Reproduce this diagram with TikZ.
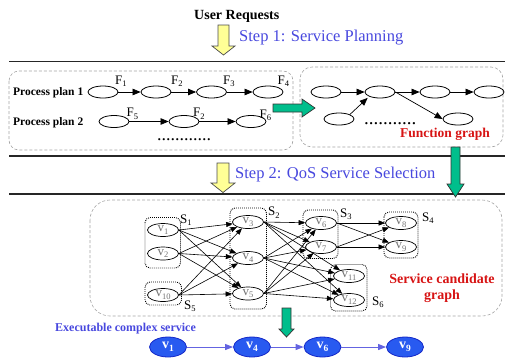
\documentclass[tikz,border=0pt]{standalone}
\usepackage{fontspec}
\setmainfont{Liberation Serif}
\usetikzlibrary{arrows.meta,calc,shapes.geometric}

\definecolor{stepblue}{RGB}{72,72,222}
\definecolor{redtxt}{RGB}{215,20,20}
\definecolor{tealarrow}{RGB}{0,190,140}
\definecolor{yel}{RGB}{255,255,150}
\definecolor{nodeblue}{RGB}{40,90,240}
\definecolor{nodeborder}{RGB}{20,40,200}
\definecolor{edgeblue}{RGB}{100,100,225}
\definecolor{boxgray}{RGB}{165,165,165}

\newcommand\lowsub[1]{\raisebox{-0.45ex}{\fontsize{8.5}{8.5}\selectfont #1}}
\newcommand\bluesub[1]{\raisebox{-0.45ex}{\fontsize{9.5}{9.5}\selectfont #1}}

\begin{document}
\begin{tikzpicture}[x=1pt,y=-1pt,
  pe/.style={ellipse, draw, line width=0.8pt, minimum width=30pt, minimum height=12pt, inner sep=0pt},
  sv/.style={ellipse, draw, line width=0.7pt, minimum width=31pt, minimum height=13pt, inner sep=0pt, text=black!55, font=\fontsize{13}{13}\selectfont},
  bv/.style={ellipse, draw=nodeborder, fill=nodeblue, line width=0.8pt, minimum width=37pt, minimum height=20pt, inner sep=0pt, text=white, font=\bfseries\fontsize{14}{14}\selectfont},
  arr/.style={-{Triangle[length=8pt,width=6.5pt]}, line width=0.7pt},
  sarr/.style={-{Triangle[length=6.5pt,width=5pt]}, line width=0.6pt},
  barr/.style={draw=edgeblue, -{Triangle[length=8pt,width=6pt]}, line width=1pt},
  dashbox/.style={draw=boxgray, line width=0.6pt, dash pattern=on 3pt off 2pt},
  dotbox/.style={draw=black, line width=0.9pt, dash pattern=on 0.9pt off 1.1pt, rounded corners=5pt},
  yarrow/.style={fill=yel, draw=black!70, line width=0.7pt},
  tarrow/.style={fill=tealarrow, draw=black!80, line width=0.7pt},
  lbl/.style={anchor=base west, inner sep=0pt, font=\fontsize{13}{13}\selectfont},
  sepline/.style={line width=1.2pt, draw=black!85}
]
\useasboundingbox (0,0) rectangle (505,360);

% ---------- titles and separators ----------
\node[anchor=base west, inner sep=0pt, font=\bfseries\fontsize{14}{14}\selectfont] (user) at (194,19.5) {User Requests};
\node[anchor=base west, inner sep=0pt, text=stepblue, font=\fontsize{16.5}{16.5}\selectfont] (step1) at (239,41.5) {Step 1: Service Planning};
\node[anchor=base west, inner sep=0pt, text=stepblue, font=\fontsize{16.5}{16.5}\selectfont] (step2) at (235,178.3) {Step 2: QoS Service Selection};

\draw[sepline] (9,61.5) -- (505,61.5);
\draw[sepline] (9,156) -- (505,156);
\draw[sepline] (9,194) -- (505,194);

% yellow arrows
\draw[yarrow] (218,25) -- (229,25) -- (229,46) -- (235,46) -- (223.5,55) -- (212,46) -- (218,46) -- cycle;
\draw[yarrow] (217,163) -- (229,163) -- (229,183) -- (235,183) -- (223,192.5) -- (211,183) -- (217,183) -- cycle;

% ---------- process plans box ----------
\draw[dashbox, rounded corners=10pt] (9,71) rectangle (293,150);
\node[anchor=base west, inner sep=0pt, font=\bfseries\fontsize{11.5}{11.5}\selectfont] (pp1) at (13,95) {Process plan 1};
\node[anchor=base west, inner sep=0pt, font=\bfseries\fontsize{11.5}{11.5}\selectfont] (pp2) at (13,125) {Process plan 2};

\node[pe] (p1) at (103,92) {};
\node[pe] (p2) at (156,92) {};
\node[pe] (p3) at (211.5,92) {};
\node[pe] (p4) at (268,92) {};
\draw[arr] (p1.east) -- (p2.west);
\draw[arr] (p2.east) -- (p3.west);
\draw[arr] (p3.east) -- (p4.west);
\node[lbl] (F1) at (115,84) {F\lowsub{1}};
\node[lbl] (F2) at (171,84) {F\lowsub{2}};
\node[lbl] (F3) at (223,84) {F\lowsub{3}};
\node[lbl] (F4) at (277.5,84) {F\lowsub{4}};

\node[pe] (q1) at (114,121.5) {};
\node[pe] (q2) at (184,121.5) {};
\node[pe] (q3) at (251,121.5) {};
\draw[arr] (q1.east) -- (q2.west);
\draw[arr] (q2.east) -- (q3.west);
\node[lbl] (F5) at (126.5,116.5) {F\lowsub{5}};
\node[lbl] (F2b) at (193,116.5) {F\lowsub{2}};
\node[lbl] (F6) at (259.5,118) {F\lowsub{6}};
\node[anchor=base west, inner sep=0pt, font=\fontsize{18}{18}\selectfont] (dots1) at (157,140) {............};

% ---------- function graph box ----------
\draw[dashbox, rounded corners=12pt] (300,67) rectangle (503,147);
\node[pe] (f1) at (326,92) {};
\node[pe] (f2) at (380,92) {};
\node[pe] (f3) at (435,92) {};
\node[pe] (f4) at (489,92) {};
\node[pe] (f5) at (339,119) {};
\node[pe] (f6) at (458,119) {};
\draw[arr] (f1.east) -- (f2.west);
\draw[arr] (f2.east) -- (f3.west);
\draw[arr] (f3.east) -- (f4.west);
\draw[arr, shorten >=2pt] (f5.north east) -- (f2.south west);
\draw[arr] (f2.east) -- (f6.west);
\node[anchor=base west, inner sep=0pt, font=\fontsize{19}{19}\selectfont] (dots2) at (364,124.5) {...........};
\node[anchor=base west, inner sep=0pt, text=redtxt, font=\bfseries\fontsize{13.5}{13.5}\selectfont] (fg) at (400,137) {Function graph};

% teal arrows
\draw[tarrow] (273,104) -- (302,104) -- (302,99) -- (315,108) -- (302,117) -- (302,112) -- (273,112) -- cycle;
\draw[tarrow] (451,147) -- (460,147) -- (460,184) -- (464,184) -- (455.5,197) -- (447,184) -- (451,184) -- cycle;

% ---------- service candidate graph ----------
\draw[dashbox, rounded corners=20pt] (90,200) rectangle (502,316);

\draw[dotbox] (145,217.5) rectangle (180.5,268);
\draw[dotbox] (145,282) rectangle (181.5,305);
\draw[dotbox] (230,208) rectangle (266.5,309);
\draw[dotbox] (303,210) rectangle (338,258.5);
\draw[dotbox] (384,212) rectangle (418,258);
\draw[dotbox] (330.5,264.5) rectangle (367,311);

\node[lbl] (S1) at (180,223) {S\lowsub{1}};
\node[lbl] (S5) at (184,309) {S\lowsub{5}};
\node[lbl] (S2) at (268,215.5) {S\lowsub{2}};
\node[lbl] (S3) at (340,217) {S\lowsub{3}};
\node[lbl] (S4) at (422,221) {S\lowsub{4}};
\node[lbl] (S6) at (372,305) {S\lowsub{6}};

\node[sv] (v1) at (163,230) {v\lowsub{1}};
\node[sv] (v2) at (163,253.5) {v\lowsub{2}};
\node[sv] (v10) at (163,295) {v\lowsub{10}};
\node[sv] (v3) at (248,222) {v\lowsub{3}};
\node[sv] (v4) at (248,258) {v\lowsub{4}};
\node[sv] (v5) at (248,293.5) {v\lowsub{5}};
\node[sv] (v6) at (321,223) {v\lowsub{6}};
\node[sv] (v7) at (321,247) {v\lowsub{7}};
\node[sv] (v8) at (401,223) {v\lowsub{8}};
\node[sv] (v9) at (401,247) {v\lowsub{9}};
\node[sv] (v11) at (349,276) {v\lowsub{11}};
\node[sv] (v12) at (349,300) {v\lowsub{12}};

\foreach \s in {v1,v2,v10}
  \foreach \t in {v3,v4,v5}
    \draw[sarr] (\s.east) -- (\t);
\foreach \s in {v3,v4,v5}
  \foreach \t in {v6,v7,v11,v12}
    \draw[sarr] (\s.east) -- (\t);
\foreach \s in {v6,v7}
  \foreach \t in {v8,v9}
    \draw[sarr] (\s.east) -- (\t);

\node[align=center, inner sep=0pt, text=redtxt, font=\bfseries\fontsize{14}{16}\selectfont] (scg) at (442,288) {Service candidate\\graph};

% ---------- executable complex service ----------
\draw[tarrow] (282,308) -- (291,308) -- (291,329) -- (294,329) -- (286.5,337) -- (279,329) -- (282,329) -- cycle;

\node[anchor=base west, inner sep=0pt, text=stepblue, font=\bfseries\fontsize{12}{12}\selectfont] (exec) at (55,331.5) {Executable complex service};

\node[bv] (b1) at (168,347) {v\bluesub{1}};
\node[bv] (b4) at (252,347) {v\bluesub{4}};
\node[bv] (b6) at (322.5,347) {v\bluesub{6}};
\node[bv] (b9) at (405,347) {v\bluesub{9}};
\draw[barr] (b1) -- (b4);
\draw[barr] (b4) -- (b6);
\draw[barr] (b6) -- (b9);
\end{tikzpicture}
\end{document}
